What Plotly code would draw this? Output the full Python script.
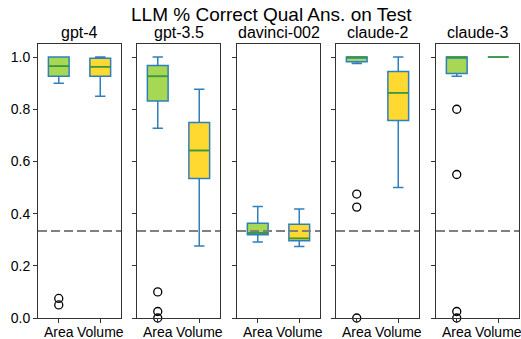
import plotly.graph_objects as go

# ---------------- data ----------------
models = ["gpt-4", "gpt-3.5", "davinci-002", "claude-2", "claude-3"]
categories = ["Area", "Volume"]
cat_pos = [1, 2]

area_q1 = [0.926, 0.832, 0.319, 0.982, 0.937]
area_median = [0.965, 0.926, 0.326, 1.0, 1.0]
area_q3 = [1.0, 0.968, 0.363, 1.0, 1.0]
area_low = [0.9, 0.727, 0.291, 0.975, 0.926]
area_high = [1.0, 1.0, 0.427, 1.0, 1.0]
area_outliers = [[0.075, 0.05], [0.1, 0.025, 0.0], [], [0.475, 0.425, 0.0], [0.8, 0.55, 0.025, 0.0]]

volume_q1 = [0.926, 0.535, 0.296, 0.757, 1.0]
volume_median = [0.963, 0.642, 0.305, 0.863, 1.0]
volume_q3 = [0.995, 0.749, 0.359, 0.945, 1.0]
volume_low = [0.85, 0.276, 0.274, 0.5, 1.0]
volume_high = [1.0, 0.877, 0.418, 1.0, 1.0]
volume_outliers = [[], [], [], [], []]

chance_level = 1 / 3
yticks = [0.0, 0.2, 0.4, 0.6, 0.8, 1.0]

# ---------------- style ----------------
W, H = 521, 339
FONT = "Liberation Sans, Arial, Helvetica, sans-serif"
fill_colors = ["#a6d854", "#ffd92f"]
edge_color = "#2f7fbf"
median_color = "#3a9a2a"
spine_color = "#333333"
box_width = 0.5

panel_left_px = [38, 137, 237, 336, 436]
panel_w_px = 83
top_px, bottom_px = 44, 318

fig = go.Figure()
layout_axes = {}

stats = [
    (area_q1, area_median, area_q3, area_low, area_high, area_outliers),
    (volume_q1, volume_median, volume_q3, volume_low, volume_high, volume_outliers),
]

for i, model in enumerate(models):
    n = i + 1
    xa = "x" if n == 1 else f"x{n}"
    ya = "y" if n == 1 else f"y{n}"
    for c, (q1, med, q3, lo, hi, outl) in enumerate(stats):
        pos = cat_pos[c]
        fig.add_trace(go.Box(
            x=[pos], q1=[q1[i]], median=[med[i]], q3=[q3[i]],
            lowerfence=[lo[i]], upperfence=[hi[i]],
            width=box_width, whiskerwidth=0.5,
            fillcolor=fill_colors[c],
            line=dict(color=edge_color, width=1.5),
            boxpoints=False, showlegend=False,
            xaxis=xa, yaxis=ya, hoverinfo="skip",
        ))
        # median line in green
        fig.add_trace(go.Scatter(
            x=[pos - box_width / 2, pos + box_width / 2], y=[med[i], med[i]],
            mode="lines", line=dict(color=median_color, width=1.5),
            showlegend=False, xaxis=xa, yaxis=ya, hoverinfo="skip",
        ))
        if outl[i]:
            fig.add_trace(go.Scatter(
                x=[pos] * len(outl[i]), y=outl[i], mode="markers",
                marker=dict(symbol="circle-open", size=8, color="black",
                            line=dict(width=1.3, color="black")),
                showlegend=False, xaxis=xa, yaxis=ya, hoverinfo="skip",
                cliponaxis=False,
            ))
    # chance line
    fig.add_shape(type="line", xref=f"{xa} domain", yref=ya,
                  x0=0, x1=1, y0=chance_level, y1=chance_level,
                  line=dict(color="#808080", width=2, dash="9px,4px"))

    x0 = panel_left_px[i] / W
    x1 = (panel_left_px[i] + panel_w_px) / W
    xkey = "xaxis" if n == 1 else f"xaxis{n}"
    ykey = "yaxis" if n == 1 else f"yaxis{n}"
    layout_axes[xkey] = dict(
        domain=[x0, x1], range=[0.5, 2.5], anchor=ya, automargin=False,
        tickvals=cat_pos, ticktext=categories, ticks="outside", ticklen=4,
        ticklabelstandoff=-3, ticklabeloverflow="allow",
        tickcolor=spine_color, showline=True, mirror=True, linecolor=spine_color,
        linewidth=1, showgrid=False, zeroline=False,
        tickfont=dict(size=14, color="black", family=FONT),
    )
    layout_axes[ykey] = dict(
        domain=[1 - bottom_px / H, 1 - top_px / H], range=[0, 1.05], anchor=xa,
        automargin=False,
        tickvals=yticks, tickformat=".1f", ticks="outside", ticklen=4,
        tickcolor=spine_color, showline=True, mirror=True, linecolor=spine_color,
        linewidth=1, showgrid=False, zeroline=False, showticklabels=(n == 1),
        tickfont=dict(size=14, color="black", family=FONT),
    )
    fig.add_annotation(
        text=model, xref="paper", yref="paper",
        x=(x0 + x1) / 2, y=1 - 43 / H, xanchor="center", yanchor="bottom",
        showarrow=False, font=dict(size=16, color="black", family=FONT),
    )

fig.add_annotation(
    text="LLM % Correct Qual Ans. on Test", xref="paper", yref="paper",
    x=271 / W, y=1 - 15 / H, xanchor="center", yanchor="middle",
    showarrow=False, font=dict(size=19, color="black", family=FONT),
)

fig.update_layout(
    width=W, height=H, margin=dict(l=0, r=0, t=0, b=0, autoexpand=False),
    paper_bgcolor="white", plot_bgcolor="white", boxmode="overlay",
    font=dict(family=FONT, color="black"), showlegend=False,
    **layout_axes,
)

fig.write_html("out.html")
